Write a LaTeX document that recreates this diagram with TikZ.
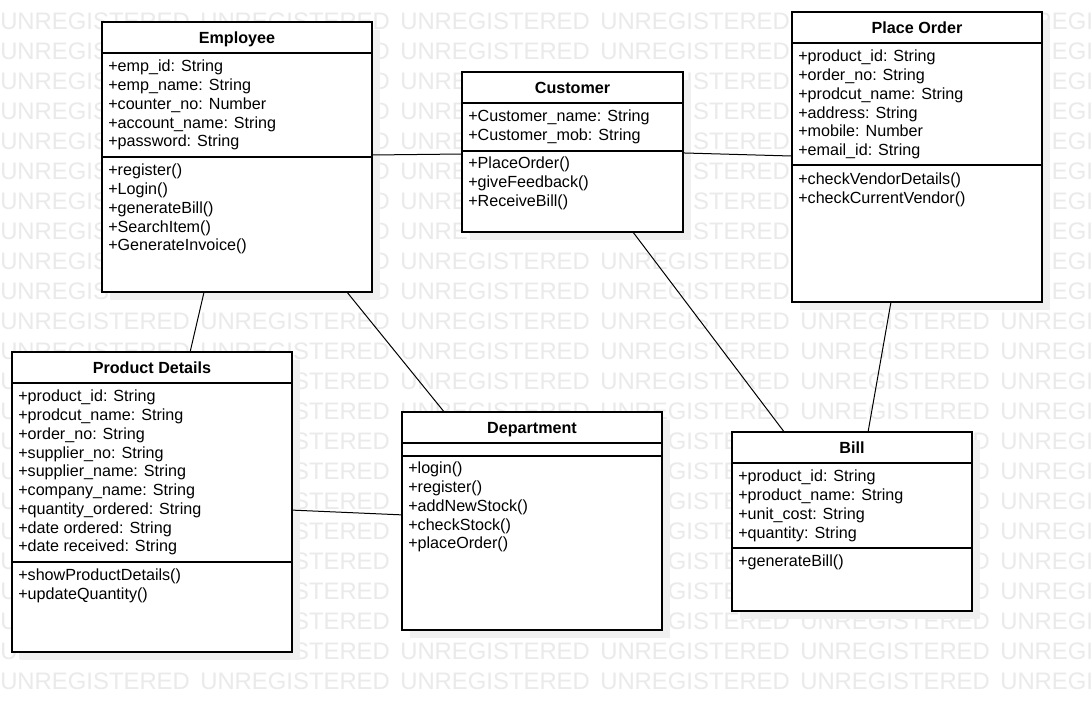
\documentclass[tikz,border=0pt]{standalone}
\usepackage{fontspec}
\setmainfont{Liberation Sans}
\usetikzlibrary{fit,calc}
\definecolor{wm}{RGB}{234,234,234}
\definecolor{shd}{RGB}{240,240,240}
\tikzset{
 box/.style={draw=black, line width=1pt, fill=white, inner sep=0pt},
 member/.style={anchor=base west, inner sep=0pt, font=\fontsize{12.1}{14}\selectfont},
 ctitle/.style={anchor=base, inner sep=0pt, font=\bfseries\fontsize{12.1}{14}\selectfont},
 divider/.style={line width=1pt},
 link/.style={line width=0.75pt},
 wmark/.style={anchor=west, inner sep=0pt, text=wm, font=\fontsize{17.9}{19}\selectfont},
}
% #1 name, #2 x1, #3 y1, #4 x2, #5 y2, #6 title divider y, #7 title
\newcommand\umlclass[7]{%
  \fill[shd] (#2+8,#3+8) rectangle (#4+8,#5+8);
  \coordinate (#1-nw) at (#2,#3);
  \coordinate (#1-se) at (#4,#5);
  \node[box, fit=(#1-nw)(#1-se)] (#1) {};
  \draw[divider] (#2,#6) -- (#4,#6);
  \node[ctitle] (#1-title) at (#2/2+#4/2, #3/2+#6/2+5.8) {#7};
}
% #1 prefix, #2 x, #3 first line centre y, #4 list
\newcommand\members[4]{%
  \foreach \t [count=\i from 0] in {#4} {\node[member] (#1-\i) at (#2, #3+5.8+\i*18.75) {\t};}
}
\begin{document}
\begin{tikzpicture}[x=0.75pt,y=-0.75pt]
\useasboundingbox (0,0) rectangle (1092,702);
\fill[white] (0,0) rectangle (1092,702);
% watermark
\foreach \r in {0,...,22} {\foreach \c in {0,...,5} {\node[wmark] (wm-\r-\c) at (\c*200, 21+\r*30) {UNREGISTERED};}}

% Employee
\umlclass{emp}{102}{22}{372}{292}{53}{Employee}
\draw[divider] (102,157) -- (372,157);
\members{empa}{108}{66}{+emp\_id: String, +emp\_name: String, +counter\_no: Number, +account\_name: String, +password: String}
\members{empm}{108}{170}{+register(), +Login(), +generateBill(), +SearchItem(), +GenerateInvoice()}

% Customer
\umlclass{cust}{462}{72}{683}{232}{103}{Customer}
\draw[divider] (462,151) -- (683,151);
\members{custa}{468}{116}{+Customer\_name: String, +Customer\_mob: String}
\members{custm}{468}{163}{+PlaceOrder(), +giveFeedback(), +ReceiveBill()}

% Place Order
\umlclass{po}{792}{12}{1042}{302}{43}{Place Order}
\draw[divider] (792,165) -- (1042,165);
\members{poa}{798}{56}{+product\_id: String, +order\_no: String, +prodcut\_name: String, +address: String, +mobile: Number, +email\_id: String}
\members{pom}{798}{178.5}{+checkVendorDetails(), +checkCurrentVendor()}

% Product Details
\umlclass{prod}{12}{352}{292}{652}{383}{Product Details}
\draw[divider] (12,562) -- (292,562);
\members{proda}{18}{396}{+product\_id: String, +prodcut\_name: String, +order\_no: String, +supplier\_no: String, +supplier\_name: String, +company\_name: String, +quantity\_ordered: String, +date ordered: String, +date received: String}
\members{prodm}{18}{575}{+showProductDetails(), +updateQuantity()}

% Department
\umlclass{dept}{402}{412}{662}{630}{443}{Department}
\draw[divider] (402,456) -- (662,456);
\members{deptm}{408}{468}{+login(), +register(), +addNewStock(), +checkStock(), +placeOrder()}

% Bill
\umlclass{bill}{732}{432}{972}{611}{463}{Bill}
\draw[divider] (732,548) -- (972,548);
\members{billa}{738}{476}{+product\_id: String, +product\_name: String, +unit\_cost: String, +quantity: String}
\members{billm}{738}{561}{+generateBill()}

% connectors
\draw[link] ($(emp.north east)!0.4926!(emp.south east)$) -- ($(cust.north west)!0.5125!(cust.south west)$);
\draw[link] ($(cust.north east)!0.506!(cust.south east)$) -- ($(po.north west)!0.4966!(po.south west)$);
\draw[link] ($(emp.south west)!0.378!(emp.south east)$) -- ($(prod.north west)!0.636!(prod.north east)$);
\draw[link] ($(emp.south west)!0.907!(emp.south east)$) -- ($(dept.north west)!0.162!(dept.north east)$);
\draw[link] ($(cust.south west)!0.774!(cust.south east)$) -- ($(bill.north west)!0.217!(bill.north east)$);
\draw[link] ($(po.south west)!0.396!(po.south east)$) -- ($(bill.north west)!0.567!(bill.north east)$);
\draw[link] ($(prod.north east)!0.527!(prod.south east)$) -- ($(dept.north west)!0.472!(dept.south west)$);
\end{tikzpicture}
\end{document}
